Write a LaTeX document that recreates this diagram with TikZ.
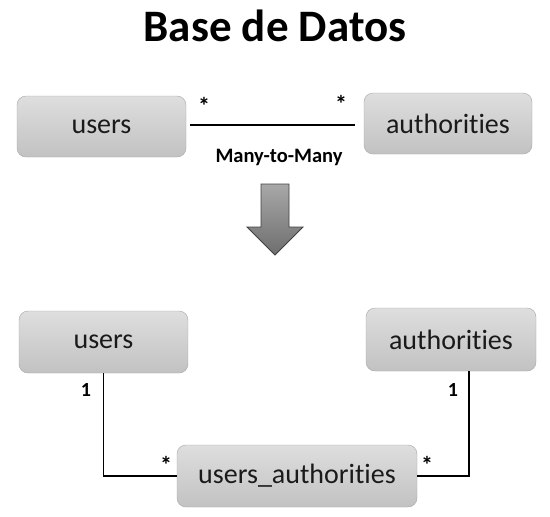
\documentclass[tikz,border=0pt]{standalone}
\usepackage{fontspec}
\setmainfont{Carlito}[Ligatures={NoCommon,NoRequired,NoContextual}]
\usetikzlibrary{positioning}
\definecolor{boxtop}{HTML}{DEDEDE}
\definecolor{boxbottom}{HTML}{C2C2C2}
\definecolor{boxline}{HTML}{A6A6A6}
\definecolor{arrowtop}{HTML}{A8A8A8}
\definecolor{arrowbottom}{HTML}{6E6E6E}
\definecolor{arrowline}{HTML}{404040}
\definecolor{labeltext}{HTML}{1A1A1A}

\begin{document}
\begin{tikzpicture}[x=1pt, y=-1pt,
      entity/.style={rectangle, rounded corners=9pt, draw=boxline, top color=boxtop, bottom color=boxbottom, text=labeltext, minimum height=61pt, align=center, font=\fontsize{28}{32}\selectfont, inner sep=0pt},
      mult/.style={font=\bfseries\fontsize{20}{22}\selectfont, text=black, inner sep=0pt},
      link/.style={line width=1.6pt, black},
    ]
    \useasboundingbox (0,0) rectangle (550,517);

    % title
    \node[font=\bfseries\fontsize{45}{50}\selectfont] (title) at (275,26) {Base de Datos};

    % many-to-many relation
    \node[entity, minimum width=169pt] (usersTop) at (101.5,126.5) {users};
    \node[entity, minimum width=168pt] (authTop) at (448,123.5) {authorities};
    \draw[link] ([xshift=4pt]usersTop.east |- 0,125) coordinate (mmStart) -- ([xshift=-9pt]authTop.west |- 0,125) coordinate (mmEnd);
    \node[mult, font=\bfseries\fontsize{24}{26}\selectfont] (starTopL) at (204,106) {*};
    \node[mult, font=\bfseries\fontsize{24}{26}\selectfont] (starTopR) at (341,104) {*};
    \node[font=\bfseries\fontsize{20.5}{24}\selectfont] (mmLabel) at (279,157) {Many-to-Many};

    % transform arrow
    \shade[top color=arrowtop, bottom color=arrowbottom, draw=arrowline, line width=0.8pt]
      (261,184) -- (289,184) -- (289,227) -- (303,227) -- (275,255) -- (247,227) -- (261,227) -- cycle;

    % join table
    \node[entity, minimum width=169pt, minimum height=62pt] (usersBot) at (103.5,342) {users};
    \node[entity, minimum width=170pt, minimum height=63pt] (authBot) at (451,339.5) {authorities};
    \node[entity, minimum width=240pt, minimum height=62pt] (usersAuth) at (297,476) {users\_authorities};

    \draw[link] (usersBot.south) |- (usersAuth.west);
    \draw[link] ([xshift=18pt]authBot.south) |- (usersAuth.east);
    \node[mult] (oneL) at (86,390) {1};
    \node[mult] (oneR) at (453,390) {1};
    \node[mult, font=\bfseries\fontsize{24}{26}\selectfont] (starBotL) at (166,465) {*};
    \node[mult, font=\bfseries\fontsize{24}{26}\selectfont] (starBotR) at (427,465) {*};
  \end{tikzpicture}
\end{document}
